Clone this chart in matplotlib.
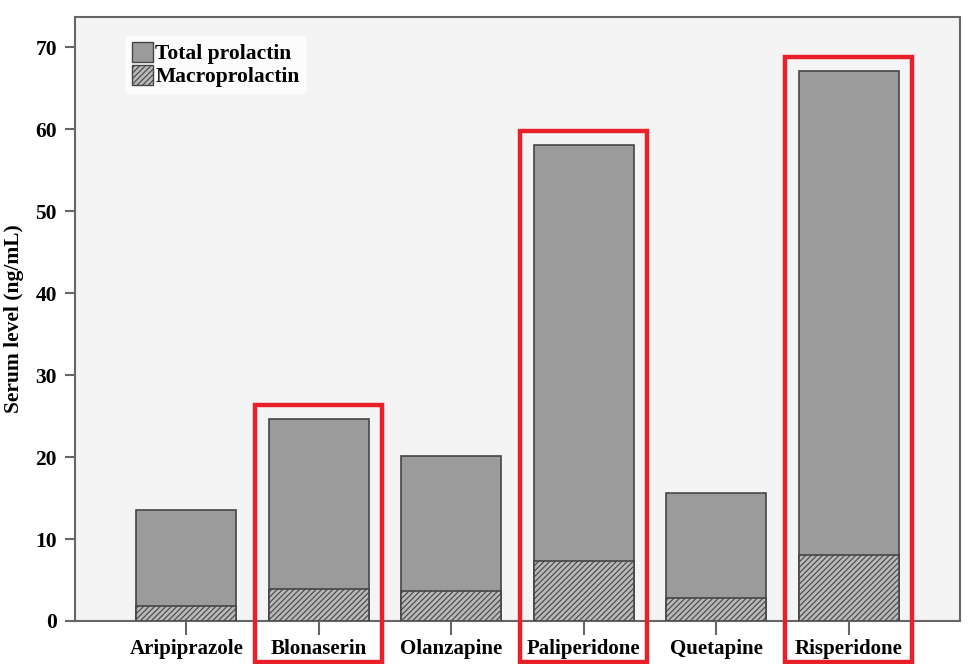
import numpy as np
import matplotlib.pyplot as plt
from matplotlib.patches import Patch, Rectangle

drugs = ['Aripiprazole', 'Blonaserin', 'Olanzapine', 'Paliperidone', 'Quetapine', 'Risperidone']
total = [13.6, 24.6, 20.1, 58.1, 15.6, 67.1]
macro = [1.8, 3.9, 3.7, 7.3, 2.8, 8.0]
highlighted = ['Blonaserin', 'Paliperidone', 'Risperidone']

plt.rcParams['font.family'] = ['Liberation Serif', 'DejaVu Serif']
plt.rcParams['font.weight'] = 'bold'
plt.rcParams['hatch.linewidth'] = 0.8

fig = plt.figure(figsize=(9.7, 6.64), dpi=100)
ax = fig.add_axes([0.0773, 0.0648, 0.9124, 0.9096])
ax.set_facecolor('#f4f4f4')

x = np.arange(len(drugs))
w = 0.755
ax.bar(x, total, width=w, color='#9b9b9b', edgecolor='#454545', linewidth=1.2, zorder=2)
ax.bar(x, macro, width=w, color='#b8b8b8', edgecolor='#454545', linewidth=1.2,
       hatch='//////', zorder=3)

ax.set_xlim(-0.84, 5.84)
ax.set_ylim(0, 73.7)
ax.set_yticks(range(0, 80, 10))
ax.set_xticks(x)
ax.set_xticklabels(drugs, fontsize=15, fontweight='bold')
ax.tick_params(axis='y', labelsize=15.5, length=7, width=1.5, color='#666666', pad=6)
ax.tick_params(axis='x', length=10, width=1.5, color='#666666', pad=3)
for s in ax.spines.values():
    s.set_color('#666666')
    s.set_linewidth(1.5)
ax.set_ylabel('Serum level (ng/mL)', fontsize=15.5, fontweight='bold', labelpad=8)

handles = [Patch(facecolor='#9b9b9b', edgecolor='#454545', label='Total prolactin'),
           Patch(facecolor='#b8b8b8', edgecolor='#454545', hatch='//////', label='Macroprolactin')]
leg = ax.legend(handles=handles, loc='upper left', bbox_to_anchor=(0.058, 0.968),
                fontsize=15.5, frameon=True, fancybox=False, handlelength=1.0,
                handleheight=1.05, handletextpad=0.1, borderpad=0.25, labelspacing=0.05,
                borderaxespad=0)
leg.get_frame().set_facecolor('white')
leg.get_frame().set_edgecolor('white')
for t in leg.get_texts():
    t.set_fontweight('bold')

# red highlight boxes
for name in highlighted:
    i = drugs.index(name)
    top = total[i] + 1.7
    ax.add_patch(Rectangle((i - 0.48, -5.0), 0.96, top + 5.0, fill=False,
                           edgecolor='#e8202a', linewidth=3.2, clip_on=False, zorder=5))

fig.savefig('out.png', dpi=100)
